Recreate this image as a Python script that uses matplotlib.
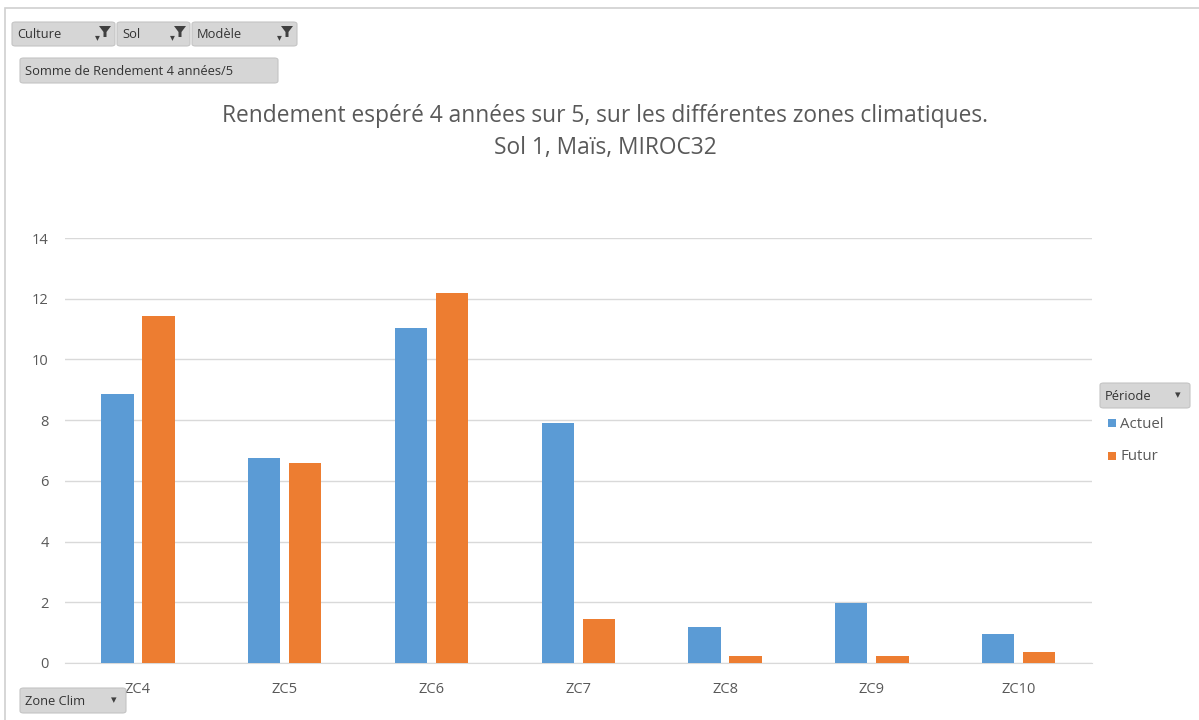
import matplotlib
matplotlib.use("Agg")
import matplotlib.pyplot as plt
from matplotlib.patches import FancyBboxPatch, Rectangle, Polygon
import numpy as np

categories = ["ZC4", "ZC5", "ZC6", "ZC7", "ZC8", "ZC9", "ZC10"]
actuel = [8.86, 6.75, 11.02, 7.90, 1.20, 1.99, 0.97]
futur = [11.43, 6.59, 12.18, 1.44, 0.24, 0.24, 0.37]
series_names = ["Actuel", "Futur"]
yticks = [0, 2, 4, 6, 8, 10, 12, 14]
title = "Rendement espéré 4 années sur 5, sur les différentes zones climatiques.\nSol 1, Maïs, MIROC32"

BLUE = "#5B9BD5"
ORANGE = "#ED7D31"
TXT = "#595959"
FONT = "Open Sans"

W, H = 1199, 720
fig = plt.figure(figsize=(W / 100, H / 100), dpi=100)
fig.patch.set_facecolor("white")

def fx(px):
    return px / W

def fy(py):
    return 1 - py / H

ax = fig.add_axes([fx(64.6), fy(663), fx(1092) - fx(64.6), fy(238) - fy(663)])
x = np.arange(len(categories))
bw = 0.22
gap = 0.06
ax.bar(x - (bw + gap) / 2, actuel, width=bw, color=BLUE, zorder=3)
ax.bar(x + (bw + gap) / 2, futur, width=bw, color=ORANGE, zorder=3)
ax.set_xlim(-0.5, len(categories) - 0.5)
ax.set_ylim(0, 14)
ax.set_yticks(yticks)
ax.set_yticklabels([str(v) for v in yticks], fontsize=10.5, color=TXT, family=FONT)
ax.set_xticks(x)
ax.set_xticklabels(categories, fontsize=10.5, color=TXT, family=FONT)
ax.tick_params(axis="both", length=0)
ax.tick_params(axis="y", pad=11.5)
ax.tick_params(axis="x", pad=14)
ax.grid(axis="y", color="#D9D9D9", linewidth=1, zorder=0)
for s in ["top", "right", "left"]:
    ax.spines[s].set_visible(False)
ax.spines["bottom"].set_color("#D9D9D9")

fig.text(fx(605), fy(132), title, ha="center", va="center", fontsize=16.4,
         color=TXT, family=FONT, linespacing=1.45)

# outer frame
fig.patches.append(Rectangle((fx(5), -0.01), 1.0, fy(8) + 0.01, transform=fig.transFigure,
                             fill=False, edgecolor="#D0D0D0", linewidth=1.2))

def button(x0, y0, x1, y1, label, arrow=True, funnel=False):
    fig.patches.append(FancyBboxPatch((fx(x0), fy(y1)), fx(x1) - fx(x0), fy(y0) - fy(y1),
                                      boxstyle="round,pad=0,rounding_size=0.003",
                                      transform=fig.transFigure, facecolor="#D6D6D6",
                                      edgecolor="#C4C4C4", linewidth=0.8))
    fig.text(fx(x0 + 5), fy((y0 + y1) / 2 + 1), label, ha="left", va="center",
             fontsize=9.3, color="#333333", family=FONT)
    if funnel:
        cx, cy = x1 - 10, (y0 + y1) / 2 - 3
        fig.patches.append(Polygon([(fx(cx - 6), fy(cy - 5)), (fx(cx + 6), fy(cy - 5)),
                                    (fx(cx + 1.5), fy(cy + 1)), (fx(cx + 1.5), fy(cy + 6)),
                                    (fx(cx - 1.5), fy(cy + 6)), (fx(cx - 1.5), fy(cy + 1))],
                                   closed=True, transform=fig.transFigure,
                                   facecolor="#404040", edgecolor="none"))
        fig.text(fx(x1 - 18), fy((y0 + y1) / 2 + 3), "▾", ha="center", va="center",
                 fontsize=7, color="#404040", family="DejaVu Sans")
    elif arrow:
        fig.text(fx(x1 - 12), fy((y0 + y1) / 2), "▾", ha="center", va="center",
                 fontsize=8, color="#404040", family="DejaVu Sans")

button(12, 22, 115, 46, "Culture", funnel=True)
button(117, 22, 190, 46, "Sol", funnel=True)
button(192, 22, 297, 46, "Modèle", funnel=True)
button(20, 58, 278, 83, "Somme de Rendement 4 années/5", arrow=False)
button(20, 688, 126, 713, "Zone Clim")
button(1100, 383, 1190, 408, "Période")

# legend
for i, (name, col) in enumerate(zip(series_names, [BLUE, ORANGE])):
    yy = 423 + i * 33
    fig.patches.append(Rectangle((fx(1108), fy(yy + 4)), fx(8), fy(0) - fy(8),
                                 transform=fig.transFigure, facecolor=col, edgecolor="none"))
    fig.text(fx(1120), fy(yy + 1), name, ha="left", va="center", fontsize=10.8,
             color=TXT, family=FONT)

fig.savefig("out.png", dpi=100)
